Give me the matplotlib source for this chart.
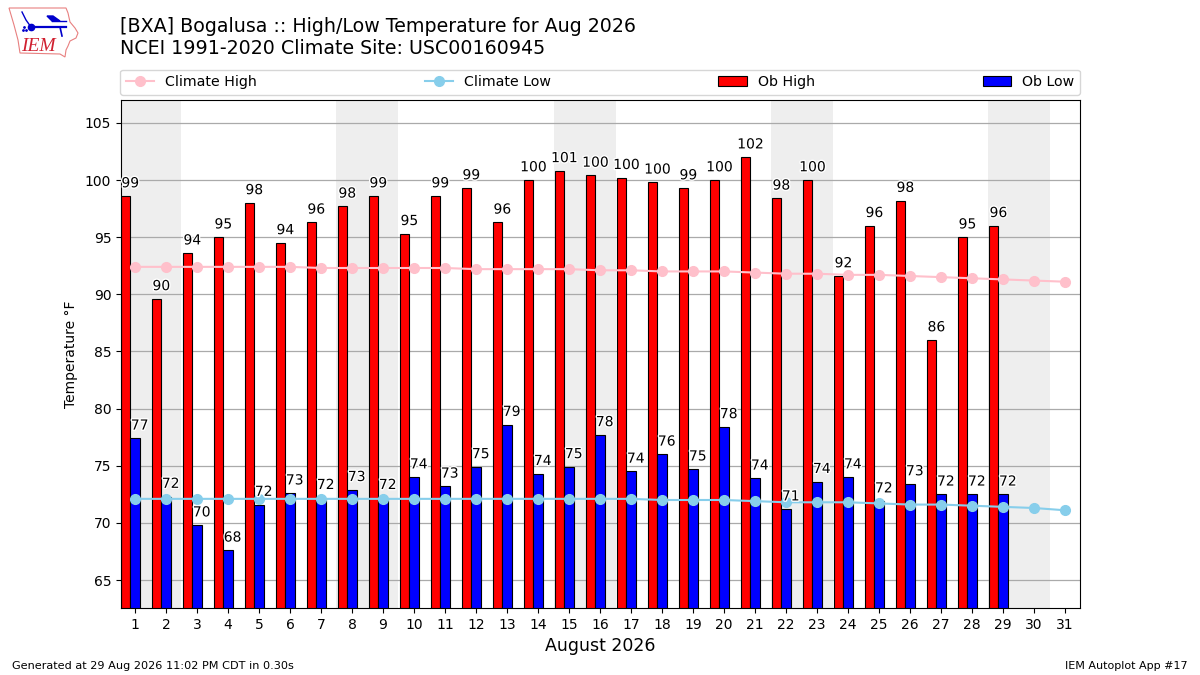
import matplotlib
matplotlib.use("Agg")
import matplotlib.pyplot as plt
import matplotlib.patheffects as PathEffects
import numpy as np

days = list(range(1, 32))
ob_days = list(range(1, 30))
ob_high = [98.6, 89.6, 93.6, 95.0, 98.0, 94.5, 96.3, 97.7, 98.6, 95.3,
           98.6, 99.3, 96.3, 100.0, 100.8, 100.4, 100.2, 99.8, 99.3, 100.0,
           102.0, 98.4, 100.0, 91.6, 96.0, 98.2, 86.0, 95.0, 96.0]
ob_low = [77.4, 72.3, 69.8, 67.6, 71.6, 72.6, 72.2, 72.9, 72.2, 74.0,
          73.2, 74.9, 78.6, 74.3, 74.9, 77.7, 74.5, 76.0, 74.7, 78.4,
          73.9, 71.2, 73.6, 74.0, 71.9, 73.4, 72.5, 72.5, 72.5]
climate_high = [92.4, 92.4, 92.4, 92.4, 92.4, 92.4, 92.3, 92.3, 92.3, 92.3,
                92.3, 92.2, 92.2, 92.2, 92.2, 92.1, 92.1, 92.0, 92.0, 92.0,
                91.9, 91.8, 91.8, 91.7, 91.7, 91.6, 91.5, 91.4, 91.3, 91.2, 91.1]
climate_low = [72.1, 72.1, 72.1, 72.1, 72.1, 72.1, 72.1, 72.1, 72.1, 72.1,
               72.1, 72.1, 72.1, 72.1, 72.1, 72.1, 72.1, 72.0, 72.0, 72.0,
               71.9, 71.8, 71.8, 71.8, 71.7, 71.6, 71.6, 71.5, 71.4, 71.3, 71.1]
weekend_starts = [1, 8, 15, 22, 29]
y_ticks = [65, 70, 75, 80, 85, 90, 95, 100, 105]

fig = plt.figure(figsize=(12, 6.75), dpi=100)
ax = fig.add_axes([121 / 1200, 1 - 608 / 675, 959 / 1200, 508 / 675])

for start in weekend_starts:
    ax.axvspan(start - 0.5, start + 1.5, color="#eeeeee", lw=0, zorder=0)

ax.set_axisbelow(True)
ax.grid(axis="y", color="#aaaaaa", lw=0.9, zorder=1)
ax.bar(np.array(ob_days) - 0.3, ob_high, width=0.3, color="red", edgecolor="k",
       lw=0.8, label="Ob High", zorder=2)
ax.bar(ob_days, ob_low, width=0.3, color="blue", edgecolor="k",
       lw=0.8, label="Ob Low", zorder=2)
ax.plot(days, climate_high, color="pink", marker="o", lw=1.5, ms=7,
        label="Climate High", zorder=3)
ax.plot(days, climate_low, color="skyblue", marker="o", lw=1.5, ms=7,
        label="Climate Low", zorder=3)

stroke = [PathEffects.withStroke(linewidth=2, foreground="white")]
for d, hi, lo in zip(ob_days, ob_high, ob_low):
    ax.text(d - 0.15, hi + 0.5, "%.0f" % hi, ha="center", va="bottom",
            fontsize=10, path_effects=stroke, zorder=4)
    ax.text(d + 0.15, lo + 0.5, "%.0f" % lo, ha="center", va="bottom",
            fontsize=10, path_effects=stroke, zorder=4)

ax.set_xlim(0.55, 31.48)
ax.set_ylim(62.55, 107)
ax.set_xticks(days)
ax.set_yticks(y_ticks)
ax.tick_params(labelsize=10)
ax.set_xlabel("August 2026", fontsize=12.5)
ax.set_ylabel("Temperature \N{DEGREE SIGN}F", labelpad=5)

handles, labels = ax.get_legend_handles_labels()
order = [labels.index(n) for n in ("Climate High", "Climate Low", "Ob High", "Ob Low")]
ax.legend([handles[i] for i in order], [labels[i] for i in order], ncol=4,
          mode="expand", loc="lower left", bbox_to_anchor=(-0.001, 1.01, 1.001, 0.06),
          borderaxespad=0, fontsize=10.2)

fig.text(120 / 1200, 1 - 32 / 675, "[BXA] Bogalusa :: High/Low Temperature for Aug 2026", fontsize=13.65)
fig.text(120 / 1200, 1 - 54 / 675, "NCEI 1991-2020 Climate Site: USC00160945", fontsize=13.65)
fig.text(12 / 1200, 1 - 669 / 675, "Generated at 29 Aug 2026 11:02 PM CDT in 0.30s", fontsize=8.15)
fig.text(1188 / 1200, 1 - 669 / 675, "IEM Autoplot App #17", fontsize=8, ha="right")

# rough IEM logo, iowa outline with the wind vane
logo = fig.add_axes([0, 1 - 60 / 675, 85 / 1200, 60 / 675])
logo.set_xlim(0, 85)
logo.set_ylim(60, 0)
logo.axis("off")
logo.fill([9, 66, 68, 70, 75, 78, 76, 70, 68, 66, 65, 60, 20, 18, 14, 9],
          [8, 8, 13, 22, 28, 33, 38, 41, 46, 50, 57, 54, 53, 40, 25, 8],
          facecolor="white", edgecolor="#e88080", lw=0.8)
logo.plot([31, 66], [27, 27], color="#0000cc", lw=1.6)
logo.plot([31], [27], "o", color="#0000cc", ms=4.5)
logo.plot([22, 26, 31], [12, 20, 27], color="#0000cc", lw=1)
logo.fill([47, 53, 60, 52], [16, 16, 21, 21], color="#0000cc")
logo.plot([52, 66], [21, 21], color="#0000cc", lw=1)
logo.plot([60, 62], [27, 36], color="#0000cc", lw=1.2)
logo.plot([24, 23, 26], [27, 30, 30], ".", color="#0000cc", ms=2)
logo.text(21, 51, "IEM", family="Liberation Serif", style="italic",
          color="#d02030", fontsize=14)

fig.savefig("out.png", dpi=100)
